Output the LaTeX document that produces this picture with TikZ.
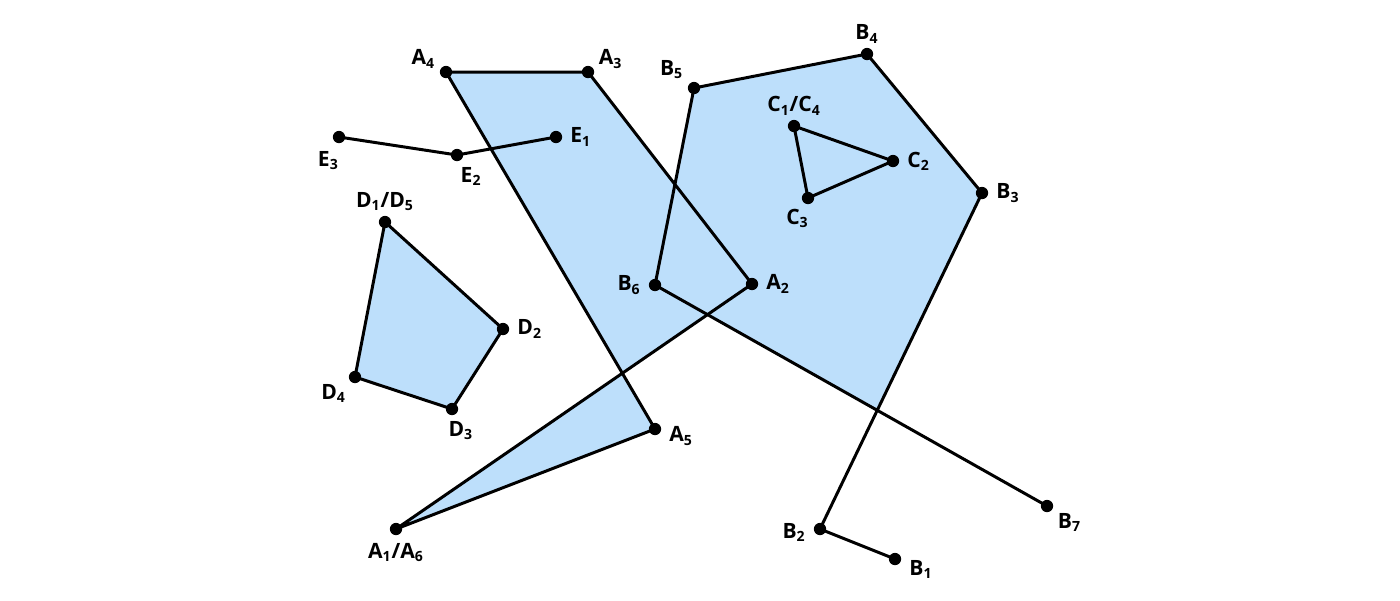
\documentclass[tikz,border=0pt]{standalone}
\usepackage{fontspec}
\setmainfont{Open Sans}
\usetikzlibrary{positioning}
\definecolor{areablue}{HTML}{BDDFFB}
\tikzset{
  pt/.style={circle,fill=black,inner sep=0pt,minimum size=7pt},
  lbl/.style={font=\fontsize{12}{14}\selectfont\bfseries,inner sep=2pt},
  edge/.style={line width=1.7pt,line join=round},
}
\newcommand{\lab}[2]{#1\textsubscript{#2}}
\begin{document}
\begin{tikzpicture}[x=0.02cm,y=-0.02cm]
\useasboundingbox (0,0) rectangle (1400,600);

\coordinate (A1) at (396,529);
\coordinate (A2) at (752,284);
\coordinate (A3) at (588,72);
\coordinate (A4) at (446,72);
\coordinate (A5) at (655,429);

\coordinate (B1) at (895,559);
\coordinate (B2) at (820,529);
\coordinate (B3) at (982,193);
\coordinate (B4) at (867,54);
\coordinate (B5) at (694,88);
\coordinate (B6) at (655,285);
\coordinate (B7) at (1047,506);
\coordinate (BX) at (intersection cs:first line={(B6)--(B7)},second line={(B2)--(B3)});

\coordinate (C1) at (794,126);
\coordinate (C2) at (893,161);
\coordinate (C3) at (808,198);

\coordinate (D1) at (385,222);
\coordinate (D2) at (503,329);
\coordinate (D3) at (452,409);
\coordinate (D4) at (355,377);

\coordinate (E1) at (556,137);
\coordinate (E2) at (457,155);
\coordinate (E3) at (339,137);

% fills
\fill[areablue] (A1) -- (A2) -- (A3) -- (A4) -- (A5) -- cycle;
\fill[areablue] (B3) -- (B4) -- (B5) -- (B6) -- (BX) -- cycle;
\fill[areablue] (D1) -- (D2) -- (D3) -- (D4) -- cycle;

% outlines
\draw[edge] (A1) -- (A2) -- (A3) -- (A4) -- (A5) -- cycle;
\draw[edge] (B1) -- (B2) -- (B3) -- (B4) -- (B5) -- (B6) -- (B7);
\draw[edge] (C1) -- (C2) -- (C3) -- cycle;
\draw[edge] (D1) -- (D2) -- (D3) -- (D4) -- cycle;
\draw[edge] (E1) -- (E2) -- (E3);

\foreach \p in {A1,A2,A3,A4,A5,B1,B2,B3,B4,B5,B6,B7,C1,C2,C3,D1,D2,D3,D4,E1,E2,E3}
  \node[pt] at (\p) {};

\node[lbl,below=6pt] at (A1) {\lab{A}{1}/\lab{A}{6}};
\node[lbl,right=6pt] at (A2) {\lab{A}{2}};
\node[lbl,above right=0pt and 4pt] at (A3) {\lab{A}{3}};
\node[lbl,above left=0pt and 4pt] at (A4) {\lab{A}{4}};
\node[lbl,right=6pt,yshift=-4pt] at (A5) {\lab{A}{5}};

\node[lbl,right=6pt,yshift=-6pt] at (B1) {\lab{B}{1}};
\node[lbl,left=6pt,yshift=-2pt] at (B2) {\lab{B}{2}};
\node[lbl,right=6pt] at (B3) {\lab{B}{3}};
\node[lbl,above=4pt] at (B4) {\lab{B}{4}};
\node[lbl,above left=3pt and 4pt] at (B5) {\lab{B}{5}};
\node[lbl,left=6pt] at (B6) {\lab{B}{6}};
\node[lbl,below right=2pt and 4pt] at (B7) {\lab{B}{7}};

\node[lbl,above=4pt] at (C1) {\lab{C}{1}/\lab{C}{4}};
\node[lbl,right=6pt] at (C2) {\lab{C}{2}};
\node[lbl,below=4pt,xshift=-6pt] at (C3) {\lab{C}{3}};

\node[lbl,above=4pt] at (D1) {\lab{D}{1}/\lab{D}{5}};
\node[lbl,right=6pt] at (D2) {\lab{D}{2}};
\node[lbl,below=5pt,xshift=5pt] at (D3) {\lab{D}{3}};
\node[lbl,below left=2pt and 3pt] at (D4) {\lab{D}{4}};

\node[lbl,right=6pt] at (E1) {\lab{E}{1}};
\node[lbl,below=5pt,xshift=8pt] at (E2) {\lab{E}{2}};
\node[lbl,below left=6pt and -2pt] at (E3) {\lab{E}{3}};
\end{tikzpicture}
\end{document}
